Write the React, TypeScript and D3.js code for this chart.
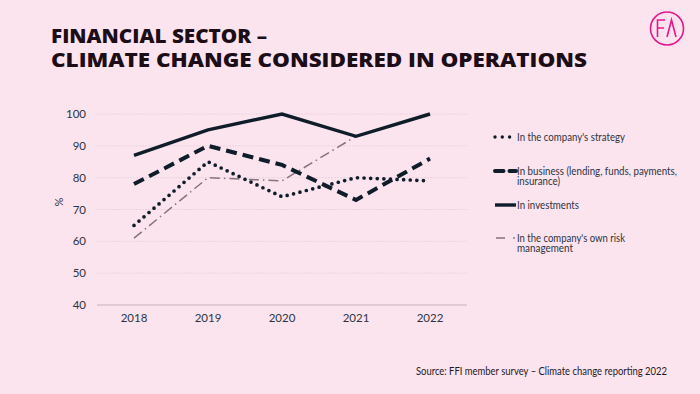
import React from "react";
import * as d3 from "d3";

const years = ["2018", "2019", "2020", "2021", "2022"];
const strategy = [65, 85, 74, 80, 79];
const business = [78, 90, 84, 73, 86];
const investments = [87, 95, 100, 93, 100];
const riskManagement = [61, 80, 79, 93, 100];
const yTicks = [40, 50, 60, 70, 80, 90, 100];

const titleLines = ["FINANCIAL SECTOR –", "CLIMATE CHANGE CONSIDERED IN OPERATIONS"];
const sourceText = "Source: FFI member survey – Climate change reporting 2022";

const BG = "#fce4ef";
const INK = "#0f1d2a";
const MAUVE = "#85737d";
const TEXT = "#2c3440";
const FONT = "Lato, 'Open Sans', sans-serif";

type Series = { name: string[]; values: number[]; style: "dot" | "dash" | "solid" | "dashdot"; textLen: number[] };

const series: Series[] = [
  { name: ["In the company's strategy"], values: strategy, style: "dot", textLen: [108] },
  { name: ["In business (lending, funds, payments,", "insurance)"], values: business, style: "dash", textLen: [160, 43] },
  { name: ["In investments"], values: investments, style: "solid", textLen: [62] },
  { name: ["In the company's own risk", "management"], values: riskManagement, style: "dashdot", textLen: [108, 56] },
];

function strokeProps(style: Series["style"]) {
  switch (style) {
    case "dot":
      return { stroke: INK, strokeWidth: 3.7, strokeDasharray: "0,6.6", strokeLinecap: "round" as const };
    case "dash":
      return { stroke: INK, strokeWidth: 4, strokeDasharray: "11,6", strokeLinecap: "butt" as const };
    case "solid":
      return { stroke: INK, strokeWidth: 3.4, strokeLinecap: "butt" as const };
    case "dashdot":
      return { stroke: MAUVE, strokeWidth: 1.5, strokeDasharray: "10,4,1.5,4", strokeLinecap: "butt" as const };
  }
}

export default function App() {
  const W = 700;
  const H = 394;
  const x = d3.scalePoint<string>().domain(years).range([97, 467]).padding(0.5);
  const y = d3.scaleLinear().domain([40, 100]).range([305, 114]);
  const line = d3
    .line<number>()
    .x((_, i) => x(years[i]) as number)
    .y((d) => y(d));

  const legendY = [137, 171, 205, 238];
  const order = [3, 0, 1, 2];

  return (
    <svg width={W} height={H} style={{ position: "absolute", left: 0, top: 0, display: "block" }}>
      <rect x={0} y={0} width={W} height={H} fill={BG} />

      {/* title */}
      <text fontFamily="'Open Sans', sans-serif" fontWeight={800} fontSize={20} fill="#1c0d16">
        <tspan x={51} y={43} textLength={216} lengthAdjust="spacingAndGlyphs">{titleLines[0]}</tspan>
        <tspan x={51} y={67} textLength={536} lengthAdjust="spacingAndGlyphs">{titleLines[1]}</tspan>
      </text>

      {/* logo */}
      <g>
        <circle cx={667} cy={28.5} r={16.5} fill="none" stroke="#e6168c" strokeWidth={1.6} />
        <path d="M657.5,37 V20 H665 M657.5,28 H664" fill="none" stroke="#e6168c" strokeWidth={1.6} />
        <path d="M667,37 L671.5,20 L676,37" fill="none" stroke="#e6168c" strokeWidth={1.6} />
      </g>

      {/* gridlines */}
      {yTicks.map((t) => (
        <line
          key={t}
          x1={97}
          x2={467}
          y1={y(t)}
          y2={y(t)}
          stroke={t === 40 ? "#d6c2cc" : "#ead2de"}
          strokeWidth={t === 40 ? 1.5 : 1}
          strokeDasharray={t === 40 ? undefined : "2,1"}
        />
      ))}

      {/* y tick labels */}
      {yTicks.map((t) => (
        <text key={t} x={86} y={y(t)} dy="0.35em" textAnchor="end" fontFamily={FONT} fontSize={11.5} fill={TEXT}>
          {t}
        </text>
      ))}
      <text
        transform={`translate(59,202) rotate(-90)`}
        textAnchor="middle"
        dy="0.35em"
        fontFamily={FONT}
        fontSize={11}
        fill={TEXT}
      >
        %
      </text>

      {/* x tick labels */}
      {years.map((yr) => (
        <text key={yr} x={x(yr)} y={322} textAnchor="middle" fontFamily={FONT} fontSize={11.5} fill={TEXT}>
          {yr}
        </text>
      ))}

      {/* series lines */}
      {order.map((i) => {
        const s = series[i];
        return <path key={i} d={line(s.values) || ""} fill="none" {...strokeProps(s.style)} strokeLinejoin="miter" />;
      })}

      {/* legend */}
      {series.map((s, i) => {
        const ly = legendY[i];
        let marker: React.ReactNode = null;
        if (s.style === "dot") {
          marker = <line x1={495} x2={510} y1={ly} y2={ly} stroke={INK} strokeWidth={3.4} strokeDasharray="0,7.3" strokeLinecap="round" />;
        } else if (s.style === "dash") {
          marker = (
            <g>
              <line x1={495} x2={503.5} y1={ly} y2={ly} stroke={INK} strokeWidth={4} strokeLinecap="round" />
              <line x1={509.5} x2={516} y1={ly} y2={ly} stroke={INK} strokeWidth={4} strokeLinecap="round" />
            </g>
          );
        } else if (s.style === "solid") {
          marker = <line x1={495} x2={516} y1={ly} y2={ly} stroke={INK} strokeWidth={3.4} />;
        } else {
          marker = (
            <g>
              <line x1={496} x2={505} y1={ly} y2={ly} stroke={MAUVE} strokeWidth={1.5} />
              <circle cx={514} cy={ly} r={0.9} fill={MAUVE} />
            </g>
          );
        }
        return (
          <g key={i}>
            {marker}
            <text fontFamily={FONT} fontSize={10.5} fill={TEXT}>
              {s.name.map((n, j) => (
                <tspan key={j} x={517} y={ly + 3.6 + j * 10.8} textLength={s.textLen[j]} lengthAdjust="spacingAndGlyphs">
                  {n}
                </tspan>
              ))}
            </text>
          </g>
        );
      })}

      {/* source */}
      <text x={416} y={375} fontFamily={FONT} fontSize={11} fill="#1c1a22" textLength={251} lengthAdjust="spacingAndGlyphs">
        {sourceText}
      </text>
    </svg>
  );
}
